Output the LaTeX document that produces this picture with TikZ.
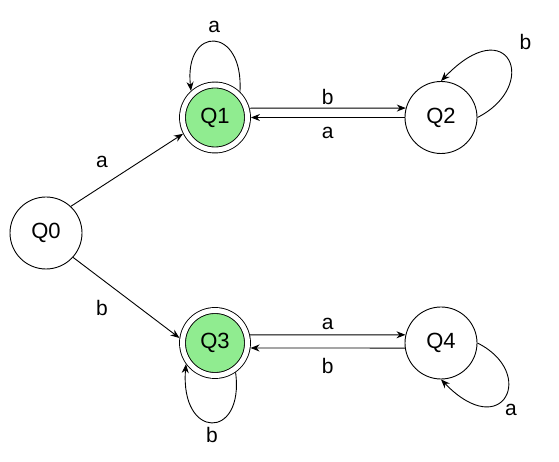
\documentclass[tikz,border=0pt]{standalone}
\usepackage{fontspec}
\setmainfont{Liberation Sans}
\usepackage{tikz}
\usetikzlibrary{arrows.meta}
\definecolor{accgreen}{RGB}{144,236,144}

\begin{document}
\begin{tikzpicture}[x=1pt, y=1pt, every node/.style={circle, draw, line width=0.9pt, minimum size=72pt, inner sep=0pt, font=\fontsize{22}{26}\selectfont}]
        \useasboundingbox (0,0) rectangle (559,462);
        \tikzset{accept/.style={fill=accgreen, double, double distance=5pt, minimum size=65pt, outer sep=3.4pt}}
        \node (q0) at (46, 229) {Q0};
        \node[accept] (q1) at (215, 344.5) {Q1};
        \node (q2) at (441, 344.5) {Q2};
        \node[accept] (q3) at (215, 119) {Q3};
        \node (q4) at (441, 119) {Q4};
        % edges
        \tikzset{every node/.style={font=\fontsize{21}{25}\selectfont, inner sep=0pt}};
        \tikzset{mystyle/.style={-{Stealth[length=9pt,width=7pt]}, line width=0.9pt}};
        \draw[mystyle] (q0.47) -- node[pos=.3, xshift=-2.5pt, yshift=22.5pt] {a} (q1.207);
        \draw[mystyle] (q0.-42) -- node[pos=.3, xshift=-3pt, yshift=-26.4pt] {b} (q3.172);
        \draw[mystyle] (q1.15) -- node[above=2.5pt] {b} (q2.165);
        \draw[mystyle] (q2.west) -- node[below=9.5pt] {a} (q1.east);
        \draw[mystyle] (q3.13) -- node[above=4.5pt] {a} (q4.167);
        \draw[mystyle] (q4.188) -- node[below=9.5pt] {b} (q3.-8);
        % loops
        \draw[mystyle] (q1.46) .. controls +(4,66) and +(-7,66) .. node[above=8.5pt] {a} (q1.132);
        \draw[mystyle] (q2.east) .. controls +(63,32) and +(68,71) .. node[xshift=17pt, yshift=19pt] {b} (q2.north);
        \draw[mystyle] (q3.-55) .. controls +(9,-68) and +(-6,-76) .. node[below=5pt] {b} (q3.216);
        \draw[mystyle] (q4.east) .. controls +(60,-30) and +(62,-64) .. node[xshift=6pt, yshift=-13pt] {a} (q4.south);
\end{tikzpicture}
\end{document}
